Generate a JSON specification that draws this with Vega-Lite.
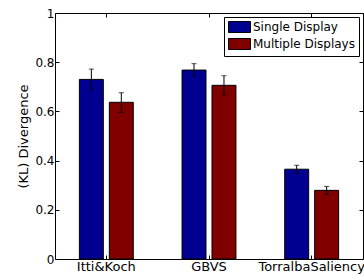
{
  "$schema": "https://vega.github.io/schema/vega-lite/v6.json",
  "width": 308,
  "height": 246,
  "autosize": "none",
  "padding": {"left": 55, "top": 13, "right": 1, "bottom": 21},
  "background": "white",
  "data": {
    "values": [
      {"method": "Itti&Koch", "display": "Single Display", "value": 0.730, "lo": 0.687, "hi": 0.772},
      {"method": "Itti&Koch", "display": "Multiple Displays", "value": 0.637, "lo": 0.596, "hi": 0.676},
      {"method": "GBVS", "display": "Single Display", "value": 0.768, "lo": 0.743, "hi": 0.794},
      {"method": "GBVS", "display": "Multiple Displays", "value": 0.706, "lo": 0.667, "hi": 0.745},
      {"method": "TorralbaSaliency", "display": "Single Display", "value": 0.365, "lo": 0.349, "hi": 0.381},
      {"method": "TorralbaSaliency", "display": "Multiple Displays", "value": 0.279, "lo": 0.263, "hi": 0.295}
    ]
  },
  "config": {
    "font": "DejaVu Sans",
    "view": {"stroke": "black", "strokeWidth": 1},
    "axis": {"grid": false, "domain": false, "tickColor": "black", "labelColor": "black", "titleColor": "black", "labelFont": "DejaVu Sans", "titleFont": "DejaVu Sans", "labelFontSize": 12, "titleFontSize": 13, "titleFontWeight": "normal", "tickSize": -4, "tickWidth": 1}
  },
  "resolve": {"axis": {"x": "independent", "y": "independent"}},
  "layer": [
    {
      "mark": {"type": "bar", "stroke": "black", "strokeWidth": 1},
      "encoding": {
        "x": {"field": "method", "type": "nominal", "sort": ["Itti&Koch", "GBVS", "TorralbaSaliency"],
              "scale": {"paddingInner": 0.475, "paddingOuter": 0.2375},
              "axis": {"orient": "bottom", "title": null, "labelAngle": 0, "labelPadding": 5, "labelFontSize": 13, "labelLimit": 0, "labelOverlap": false}},
        "xOffset": {"field": "display", "type": "nominal", "sort": ["Single Display", "Multiple Displays"],
                    "scale": {"paddingInner": 0.2, "paddingOuter": 0}},
        "y": {"field": "value", "type": "quantitative", "scale": {"domain": [0, 1], "nice": false},
              "axis": {"orient": "left", "title": "(KL) Divergence", "values": [0, 0.2, 0.4, 0.6, 0.8, 1], "format": "~g", "labelPadding": 5, "titlePadding": 4}},
        "color": {"field": "display", "type": "nominal", "sort": ["Single Display", "Multiple Displays"],
                  "scale": {"domain": ["Single Display", "Multiple Displays"], "range": ["#000090", "#800000"]},
                  "legend": {"title": null, "orient": "top-right", "offset": 4, "fillColor": "white", "strokeColor": "black", "padding": 4,
                             "symbolType": "M-1,-1H3V1H-1Z", "symbolSize": 121, "symbolStrokeColor": "black", "symbolStrokeWidth": 1,
                             "labelFontSize": 12, "labelFont": "DejaVu Sans", "labelColor": "black", "labelOffset": 13, "rowPadding": 1}}
      }
    },
    {
      "mark": {"type": "rule", "color": "black", "strokeWidth": 1},
      "encoding": {
        "x": {"field": "method", "type": "nominal", "sort": ["Itti&Koch", "GBVS", "TorralbaSaliency"],
              "axis": {"orient": "top", "title": null, "labels": false}},
        "xOffset": {"field": "display", "type": "nominal", "sort": ["Single Display", "Multiple Displays"]},
        "y": {"field": "lo", "type": "quantitative",
              "axis": {"orient": "right", "title": null, "labels": false, "values": [0, 0.2, 0.4, 0.6, 0.8, 1]}},
        "y2": {"field": "hi"}
      }
    },
    {
      "mark": {"type": "tick", "color": "black", "thickness": 1, "size": 5, "orient": "horizontal"},
      "encoding": {
        "x": {"field": "method", "type": "nominal", "sort": ["Itti&Koch", "GBVS", "TorralbaSaliency"], "axis": null},
        "xOffset": {"field": "display", "type": "nominal", "sort": ["Single Display", "Multiple Displays"]},
        "y": {"field": "lo", "type": "quantitative", "axis": null}
      }
    },
    {
      "mark": {"type": "tick", "color": "black", "thickness": 1, "size": 5, "orient": "horizontal"},
      "encoding": {
        "x": {"field": "method", "type": "nominal", "sort": ["Itti&Koch", "GBVS", "TorralbaSaliency"], "axis": null},
        "xOffset": {"field": "display", "type": "nominal", "sort": ["Single Display", "Multiple Displays"]},
        "y": {"field": "hi", "type": "quantitative", "axis": null}
      }
    }
  ]
}
